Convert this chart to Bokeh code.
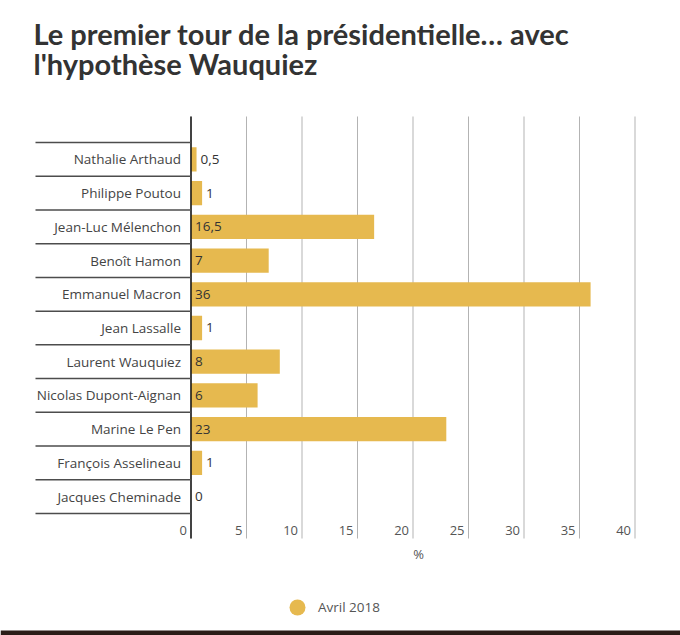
from bokeh.plotting import figure
from bokeh.models import Range1d, Legend, LegendItem, ColumnDataSource
from bokeh.core.properties import value
from bokeh.embed import file_html
from bokeh.resources import INLINE

# ---- data ----
candidates = ["Nathalie Arthaud", "Philippe Poutou", "Jean-Luc Mélenchon", "Benoît Hamon",
              "Emmanuel Macron", "Jean Lassalle", "Laurent Wauquiez", "Nicolas Dupont-Aignan",
              "Marine Le Pen", "François Asselineau", "Jacques Cheminade"]
scores = [0.5, 1, 16.5, 7, 36, 1, 8, 6, 23, 1, 0]
x_ticks = [0, 5, 10, 15, 20, 25, 30, 35, 40]
x_tick_labels = ["0", "5", "10", "15", "20", "25", "30", "35", "40"]
series_name = "Avril 2018"
title_lines = ["Le premier tour de la présidentielle… avec", "l'hypothèse Wauquiez"]
x_title = "%"

BAR = "#E6B94F"
FONT = "Open Sans"
TITLE_FONT = "Lato"

W, H = 680, 635
# layout (figure pixels)
X0_PX = 190.5          # where value 0 sits
PX_PER_UNIT = 11.1
ROW_PX = 33.727
ROW_TOP_PX = 142.0     # top boundary of first row

def xd(px):
    return (px - X0_PX) / PX_PER_UNIT

def yd(px):
    return -0.5 + (px - ROW_TOP_PX) / ROW_PX

n = len(candidates)
idx = list(range(n))
labels = [f"{v:g}".replace(".", ",") for v in scores]
anchor = [v if v <= 1 else 0 for v in scores]
bounds = [i - 0.5 for i in range(n + 1)]

src = ColumnDataSource(dict(y=idx, v=scores, lab=labels, ax=anchor, name=candidates))

p = figure(width=W, height=H, output_backend="svg", toolbar_location=None,
           x_range=Range1d(xd(0), xd(W)), y_range=Range1d(yd(H), yd(0)),
           x_axis_location=None, y_axis_location=None,
           min_border=0)
p.outline_line_color = None
p.grid.visible = False
p.background_fill_color = "white"
p.border_fill_color = "white"

grid_top, grid_bot = yd(116), yd(538)

# title
p.text(x=[xd(33)] * 2, y=[yd(33), yd(63)], text=title_lines, text_align="left",
       text_baseline="alphabetic", text_font=value(TITLE_FONT), text_font_size="29px",
       text_font_style="bold", text_color="#333333")

# vertical gridlines
p.segment(x0=x_ticks, x1=x_ticks, y0=[grid_top] * len(x_ticks), y1=[grid_bot] * len(x_ticks),
          line_color="#b3b3b3", line_width=1)

# bars
p.hbar(y="y", right="v", left=0, height=0.72, source=src, color=BAR, line_color=None)

# zero axis line
p.segment(x0=[0], x1=[0], y0=[grid_top], y1=[grid_bot], line_color="#111111", line_width=1.5)

# row separators on the left
p.segment(x0=[xd(35)] * len(bounds), x1=[0] * len(bounds), y0=bounds, y1=bounds,
          line_color="#4d4d4d", line_width=1.5)

# category names
p.text(x=0, y="y", text="name", source=src, x_offset=-10, text_align="right",
       text_baseline="middle", text_font=value(FONT), text_font_size="13.5px",
       text_color="#444444")

# value labels
p.text(x="ax", y="y", text="lab", source=src, x_offset=4, text_baseline="middle",
       text_align="left", text_font=value(FONT), text_font_size="13.5px", text_color="#333333")

# x tick labels beside gridlines
p.text(x=x_ticks, y=[yd(530)] * len(x_ticks), text=x_tick_labels, x_offset=-4,
       text_align="right", text_baseline="middle", text_font=value(FONT),
       text_font_size="13px", text_color="#555555")

# x title
p.text(x=[xd(418)], y=[yd(553)], text=[x_title], text_align="center", text_baseline="middle",
       text_font=value(FONT), text_font_size="13px", text_color="#555555")

# legend with a circle marker (marker-only renderer, point not plotted)
dummy = p.scatter(x=[float("nan")], y=[float("nan")], marker="circle", size=16,
                  color=BAR, line_color=None)
legend = Legend(items=[LegendItem(label=series_name, renderers=[dummy])],
                location=(277, 8), orientation="horizontal", border_line_color=None,
                background_fill_alpha=0, margin=0, padding=0, glyph_width=40, glyph_height=40,
                label_text_font=FONT, label_text_font_size="13.5px", label_text_color="#555555",
                label_standoff=1)
p.add_layout(legend, "center")

# dark band at the bottom
p.quad(left=[xd(0)], right=[xd(W)], top=[yd(630)], bottom=[yd(H + 2)],
       color="#2b1d18", line_color=None)

open("out.html", "w").write(file_html(p, INLINE))
